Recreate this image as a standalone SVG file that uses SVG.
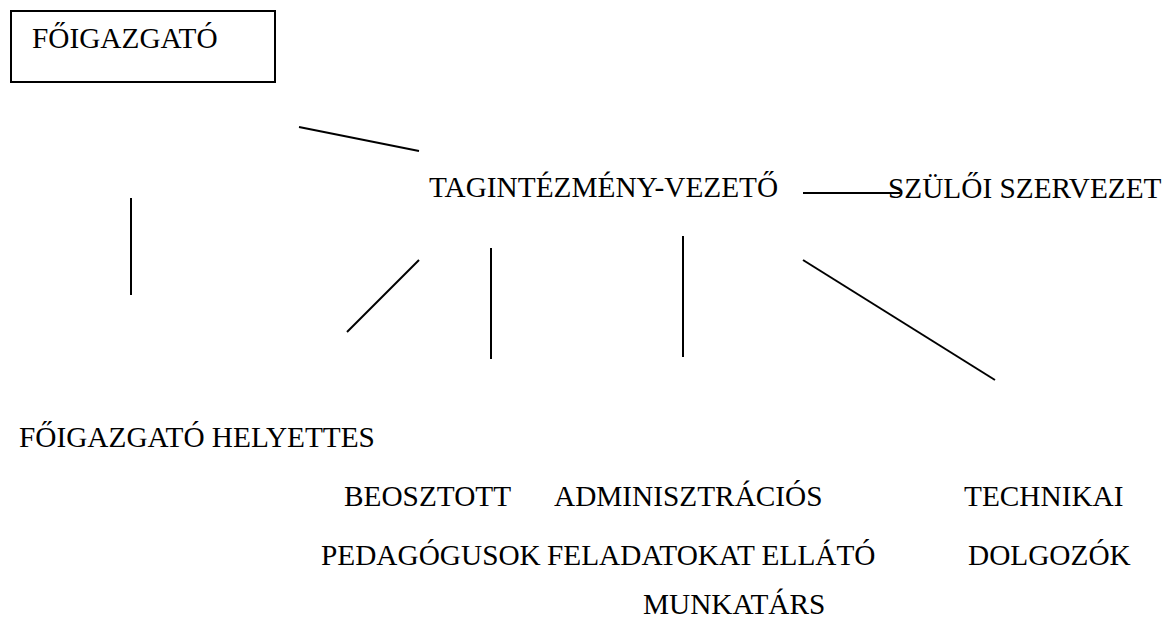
<svg xmlns="http://www.w3.org/2000/svg" width="1166" height="631" viewBox="0 0 1166 631">
<style>
.t{font-family:'Liberation Serif','Times New Roman',serif;font-size:29.3px;fill:#000}
.ln{stroke:#000;stroke-width:2;fill:none}
.box{stroke:#000;stroke-width:2;fill:#fff}
</style>
<rect width="1166" height="631" fill="#fff"/>
<g id="foigazgato">
<rect class="box" x="11" y="11" width="264" height="71"/>
<text class="t" x="32" y="48">FŐIGAZGATÓ</text>
</g>
<g id="tagintezmeny-vezeto"><text class="t" x="429" y="197">TAGINTÉZMÉNY-VEZETŐ</text></g>
<g id="szuloi-szervezet"><text class="t" x="888" y="198">SZÜLŐI SZERVEZET</text></g>
<g id="foigazgato-helyettes"><text class="t" x="19" y="447">FŐIGAZGATÓ HELYETTES</text></g>
<g id="beosztott"><text class="t" x="344" y="506">BEOSZTOTT</text><text class="t" x="321" y="565">PEDAGÓGUSOK</text></g>
<g id="adminisztracios"><text class="t" x="554" y="506">ADMINISZTRÁCIÓS</text><text class="t" x="547" y="565">FELADATOKAT ELLÁTÓ</text><text class="t" x="643" y="614">MUNKATÁRS</text></g>
<g id="technikai"><text class="t" x="964" y="506">TECHNIKAI</text><text class="t" x="968" y="565">DOLGOZÓK</text></g>
<g id="connectors">
<line class="ln" x1="299" y1="127" x2="419" y2="151"/>
<line class="ln" x1="803" y1="193" x2="900" y2="193"/>
<line class="ln" x1="131" y1="198" x2="131" y2="295"/>
<line class="ln" x1="347" y1="332" x2="419" y2="260"/>
<line class="ln" x1="491" y1="248" x2="491" y2="359"/>
<line class="ln" x1="683" y1="236" x2="683" y2="357"/>
<line class="ln" x1="803" y1="260" x2="995" y2="380"/>
</g>
</svg>
